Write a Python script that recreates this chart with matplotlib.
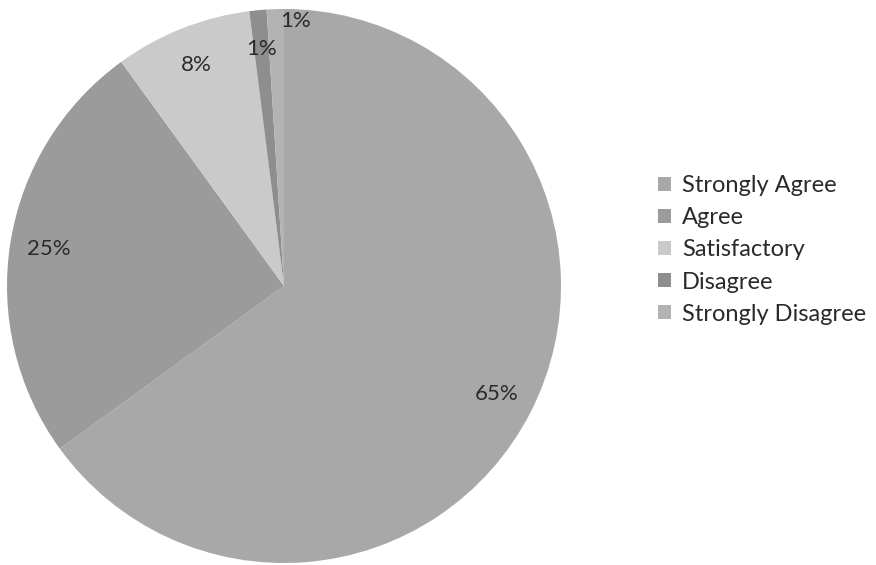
import matplotlib
matplotlib.use("Agg")
import matplotlib.pyplot as plt
from matplotlib.patches import Patch

categories = ["Strongly Agree", "Agree", "Satisfactory", "Disagree", "Strongly Disagree"]
values = [65, 25, 8, 1, 1]
labels = ["65%", "25%", "8%", "1%", "1%"]
colors = ["#a8a8a8", "#9b9b9b", "#cacaca", "#8e8e8e", "#b3b3b3"]

plt.rcParams['font.family'] = ['Lato', 'DejaVu Sans']

fig = plt.figure(figsize=(8.76, 5.65), dpi=100)
ax = fig.add_axes([7 / 876, 2 / 565, 554 / 876, 554 / 565])
wedges, texts = ax.pie(values, colors=colors, startangle=90, counterclock=False,
                       labels=labels, labeldistance=0.86,
                       textprops=dict(fontsize=16, color="#2a2a2a"),
                       wedgeprops=dict(linewidth=0))
for t in texts:
    t.set_ha("center")
    t.set_va("center")
# small overlapping label nudged outward like the reference
texts[4].set_position((0.04, 0.955))
ax.set_xlim(-1, 1)
ax.set_ylim(-1, 1)
ax.set_aspect("equal")
ax.axis("off")

handles = [Patch(facecolor=c, edgecolor="none") for c in colors]
fig.legend(handles, categories, loc="center left", bbox_to_anchor=(637 / 876, 1 - 250 / 565),
           frameon=False, fontsize=17, handlelength=0.55, handleheight=0.55,
           handletextpad=0.45, labelspacing=0.47, labelcolor="#2a2a2a")

fig.savefig("out.png", dpi=100)
